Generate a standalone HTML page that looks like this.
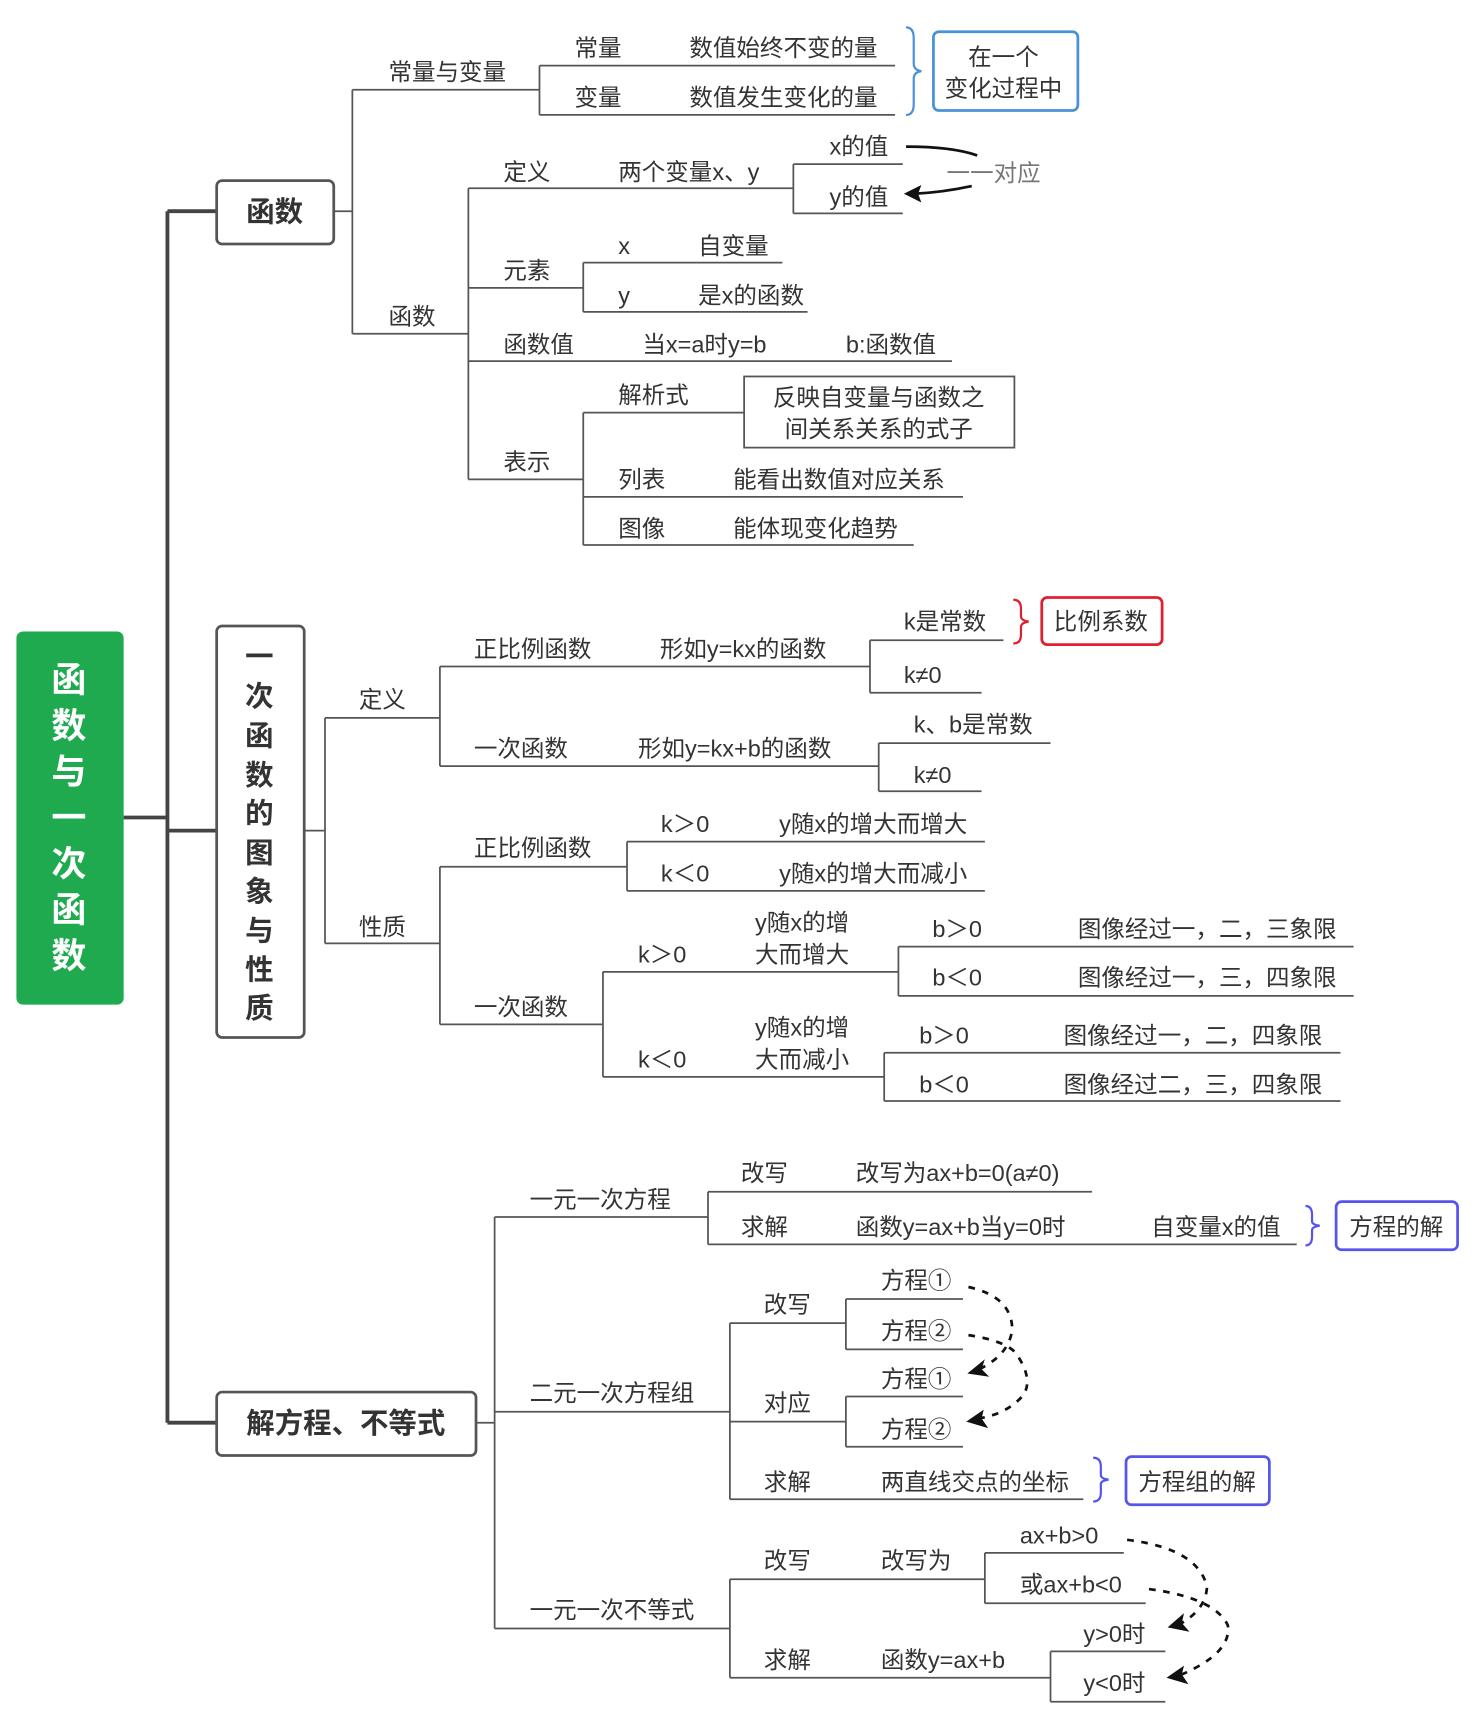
<!DOCTYPE html>
<html><head><meta charset="utf-8"><style>
html,body{margin:0;padding:0;background:#fff;}
svg{display:block;}
text{font-family:"Liberation Sans","Noto Sans CJK SC",sans-serif;font-size:21.5px;fill:#333;dominant-baseline:central;}
.b{font-weight:bold;font-size:26px;fill:#333;}
.w{font-weight:bold;font-size:32px;fill:#fff;text-anchor:middle;}
.c{text-anchor:middle;}
line,polyline,path{stroke:#555;stroke-width:1.6;fill:none;}
.t{stroke:#444;stroke-width:3.5;}
</style></head><body>
<svg width="1474" height="1716" viewBox="0 0 1347 1568" preserveAspectRatio="none" xmlns="http://www.w3.org/2000/svg">
<!-- root -->
<rect x="15" y="577" width="98" height="341" rx="6" fill="#1faa50"/>
<g class="w"><text x="63" y="622" class="w">函</text><text x="63" y="664" class="w">数</text><text x="63" y="706" class="w">与</text><text x="63" y="748" class="w">一</text><text x="63" y="790" class="w">次</text><text x="63" y="832" class="w">函</text><text x="63" y="874" class="w">数</text></g>
<line class="t" x1="113" y1="747" x2="153" y2="747"/>
<line class="t" x1="153" y1="193" x2="153" y2="1300"/>
<line class="t" x1="153" y1="193" x2="198" y2="193"/>
<line class="t" x1="153" y1="759" x2="198" y2="759"/>
<line class="t" x1="153" y1="1300" x2="198" y2="1300"/>
<rect x="198" y="165" width="107" height="58" rx="5" fill="#fff" stroke="#555" stroke-width="2.5"/>
<text x="251" y="194" class="b c">函数</text>
<rect x="198" y="572" width="80" height="376" rx="5" fill="#fff" stroke="#555" stroke-width="2.5"/>
<g><text x="237" y="601" class="b c">一</text><text x="237" y="637" class="b c">次</text><text x="237" y="673" class="b c">函</text><text x="237" y="709" class="b c">数</text><text x="237" y="744" class="b c">的</text><text x="237" y="780" class="b c">图</text><text x="237" y="815" class="b c">象</text><text x="237" y="851" class="b c">与</text><text x="237" y="887" class="b c">性</text><text x="237" y="922" class="b c">质</text></g>
<rect x="198" y="1272" width="237" height="58" rx="5" fill="#fff" stroke="#555" stroke-width="2.5"/>
<text x="316" y="1301" class="b c">解方程、不等式</text>

<!-- section 1 -->
<line x1="305" y1="193" x2="322" y2="193"/>
<line x1="322" y1="82" x2="322" y2="305"/>
<line x1="322" y1="82" x2="493" y2="82"/><text x="355" y="66">常量与变量</text>
<line x1="322" y1="305" x2="428" y2="305"/><text x="355" y="289">函数</text>
<line x1="493" y1="60" x2="493" y2="105"/>
<line x1="493" y1="60" x2="818" y2="60"/><text x="525" y="44">常量</text><text x="630" y="44">数值始终不变的量</text>
<line x1="493" y1="105" x2="818" y2="105"/><text x="525" y="89">变量</text><text x="630" y="89">数值发生变化的量</text>
<path d="M828 25 Q835 25 835 35 L835 58 Q835 64 842 65 Q835 66 835 72 L835 95 Q835 105 828 105" style="stroke:#4a90d9;stroke-width:2"/>
<rect x="853" y="29" width="132" height="72" rx="5" fill="#fff" stroke="#4a90d9" stroke-width="2.5"/>
<text x="917" y="52" class="c">在一个</text><text x="917" y="81" class="c">变化过程中</text>

<line x1="428" y1="172" x2="428" y2="438"/>
<line x1="428" y1="172" x2="725" y2="172"/><text x="460" y="157">定义</text><text x="565" y="157">两个变量x、y</text>
<line x1="725" y1="150" x2="725" y2="195"/>
<line x1="725" y1="150" x2="825" y2="150"/><text x="758" y="134">x的值</text>
<line x1="725" y1="195" x2="825" y2="195"/><text x="758" y="180">y的值</text>
<path d="M828 134 Q870 134 893 142" style="stroke:#111;stroke-width:2.5"/>
<path d="M888 170 Q860 176 835 177" style="stroke:#111;stroke-width:2.5"/>
<polygon points="826,177 842,169 839,177 842,185" fill="#111"/>
<text x="865" y="158" style="fill:#777">一一对应</text>

<line x1="428" y1="263" x2="533" y2="263"/><text x="460" y="247">元素</text>
<line x1="533" y1="240" x2="533" y2="285"/>
<line x1="533" y1="240" x2="715" y2="240"/><text x="565" y="225">x</text><text x="638" y="225">自变量</text>
<line x1="533" y1="285" x2="738" y2="285"/><text x="565" y="270">y</text><text x="638" y="270">是x的函数</text>
<line x1="428" y1="330" x2="870" y2="330"/><text x="460" y="315">函数值</text><text x="587" y="315">当x=a时y=b</text><text x="773" y="315">b:函数值</text>
<line x1="428" y1="438" x2="533" y2="438"/><text x="460" y="422">表示</text>
<line x1="533" y1="377" x2="533" y2="498"/>
<line x1="533" y1="377" x2="680" y2="377"/><text x="565" y="361">解析式</text>
<rect x="680" y="344" width="247" height="65" fill="#fff" stroke="#555" stroke-width="1.6"/>
<text x="803" y="363" class="c">反映自变量与函数之</text><text x="803" y="392" class="c">间关系关系的式子</text>
<line x1="533" y1="454" x2="880" y2="454"/><text x="565" y="438">列表</text><text x="670" y="438">能看出数值对应关系</text>
<line x1="533" y1="498" x2="835" y2="498"/><text x="565" y="483">图像</text><text x="670" y="483">能体现变化趋势</text>

<!-- section 2 -->
<line x1="278" y1="759" x2="297" y2="759"/>
<line x1="297" y1="656" x2="297" y2="862"/>
<line x1="297" y1="656" x2="402" y2="656"/><text x="328" y="639">定义</text>
<line x1="297" y1="862" x2="402" y2="862"/><text x="328" y="847">性质</text>
<line x1="402" y1="609" x2="402" y2="700"/>
<line x1="402" y1="609" x2="795" y2="609"/><text x="433" y="593">正比例函数</text><text x="603" y="593">形如y=kx的函数</text>
<line x1="795" y1="585" x2="795" y2="633"/>
<line x1="795" y1="585" x2="917" y2="585"/><text x="826" y="568">k是常数</text>
<line x1="795" y1="633" x2="897" y2="633"/><text x="826" y="617">k≠0</text>
<path d="M926 548 Q933 548 933 556 L933 563 Q933 567 940 568 Q933 569 933 573 L933 580 Q933 588 926 588" style="stroke:#e02030;stroke-width:2"/>
<rect x="952" y="546" width="110" height="43" rx="5" fill="#fff" stroke="#e02030" stroke-width="2.5"/>
<text x="1006" y="568" class="c">比例系数</text>
<line x1="402" y1="700" x2="803" y2="700"/><text x="433" y="684">一次函数</text><text x="583" y="684">形如y=kx+b的函数</text>
<line x1="803" y1="679" x2="803" y2="723"/>
<line x1="803" y1="679" x2="960" y2="679"/><text x="835" y="662">k、b是常数</text>
<line x1="803" y1="723" x2="897" y2="723"/><text x="835" y="708">k≠0</text>

<line x1="402" y1="792" x2="402" y2="936"/>
<line x1="402" y1="792" x2="573" y2="792"/><text x="433" y="775">正比例函数</text>
<line x1="573" y1="769" x2="573" y2="814"/>
<line x1="573" y1="769" x2="900" y2="769"/><text x="604" y="753">k＞0</text><text x="712" y="753">y随x的增大而增大</text>
<line x1="573" y1="814" x2="900" y2="814"/><text x="604" y="798">k＜0</text><text x="712" y="798">y随x的增大而减小</text>
<line x1="402" y1="936" x2="551" y2="936"/><text x="433" y="920">一次函数</text>
<line x1="551" y1="888" x2="551" y2="984"/>
<line x1="551" y1="888" x2="821" y2="888"/><text x="583" y="872">k＞0</text><text x="690" y="843">y随x的增</text><text x="690" y="872">大而增大</text>
<line x1="821" y1="865" x2="821" y2="910"/>
<line x1="821" y1="865" x2="1237" y2="865"/><text x="852" y="849">b＞0</text><text x="985" y="849">图像经过一，二，三象限</text>
<line x1="821" y1="910" x2="1237" y2="910"/><text x="852" y="893">b＜0</text><text x="985" y="893">图像经过一，三，四象限</text>
<line x1="551" y1="984" x2="808" y2="984"/><text x="583" y="968">k＜0</text><text x="690" y="939">y随x的增</text><text x="690" y="968">大而减小</text>
<line x1="808" y1="962" x2="808" y2="1006"/>
<line x1="808" y1="962" x2="1225" y2="962"/><text x="840" y="946">b＞0</text><text x="972" y="946">图像经过一，二，四象限</text>
<line x1="808" y1="1006" x2="1225" y2="1006"/><text x="840" y="991">b＜0</text><text x="972" y="991">图像经过二，三，四象限</text>

<!-- section 3 -->
<line x1="435" y1="1300" x2="452" y2="1300"/>
<line x1="452" y1="1112" x2="452" y2="1488"/>
<line x1="452" y1="1112" x2="647" y2="1112"/><text x="484" y="1096">一元一次方程</text>
<line x1="647" y1="1089" x2="647" y2="1137"/>
<line x1="647" y1="1089" x2="998" y2="1089"/><text x="677" y="1072">改写</text><text x="782" y="1072">改写为ax+b=0(a≠0)</text>
<line x1="647" y1="1137" x2="1185" y2="1137"/><text x="677" y="1121">求解</text><text x="782" y="1121">函数y=ax+b当y=0时</text><text x="1052" y="1121">自变量x的值</text>
<path d="M1193 1102 Q1199 1102 1199 1110 L1199 1116 Q1199 1119 1206 1120 Q1199 1121 1199 1124 L1199 1130 Q1199 1138 1193 1138" style="stroke:#5555ee;stroke-width:2"/>
<rect x="1221" y="1098" width="111" height="44" rx="5" fill="#fff" stroke="#5555ee" stroke-width="2.5"/>
<text x="1276" y="1121" class="c">方程的解</text>

<line x1="452" y1="1290" x2="667" y2="1290"/><text x="484" y="1273">二元一次方程组</text>
<line x1="667" y1="1209" x2="667" y2="1370"/>
<line x1="667" y1="1209" x2="773" y2="1209"/><text x="698" y="1192">改写</text>
<line x1="773" y1="1187" x2="773" y2="1233"/>
<line x1="773" y1="1187" x2="880" y2="1187"/><text x="805" y="1170">方程①</text>
<line x1="773" y1="1233" x2="880" y2="1233"/><text x="805" y="1216">方程②</text>
<line x1="667" y1="1299" x2="773" y2="1299"/><text x="698" y="1282">对应</text>
<line x1="773" y1="1276" x2="773" y2="1322"/>
<line x1="773" y1="1276" x2="880" y2="1276"/><text x="805" y="1260">方程①</text>
<line x1="773" y1="1322" x2="880" y2="1322"/><text x="805" y="1306">方程②</text>
<path d="M885 1176 Q925 1185 925 1215 Q922 1238 895 1251" style="stroke:#111;stroke-width:2.5;stroke-dasharray:6,7"/>
<path d="M885 1220 Q918 1225 928 1236 Q945 1260 935 1275 Q920 1292 895 1296" style="stroke:#111;stroke-width:2.5;stroke-dasharray:6,7"/>
<polygon points="884,1255 900,1242 897,1251 904,1258" fill="#111"/>
<polygon points="883,1299 899,1288 897,1296 903,1305" fill="#111"/>
<line x1="667" y1="1370" x2="990" y2="1370"/><text x="698" y="1354">求解</text><text x="805" y="1354">两直线交点的坐标</text>
<path d="M999 1332 Q1006 1332 1006 1340 L1006 1348 Q1006 1351 1013 1352 Q1006 1353 1006 1356 L1006 1364 Q1006 1372 999 1372" style="stroke:#5555ee;stroke-width:2"/>
<rect x="1029" y="1331" width="131" height="44" rx="5" fill="#fff" stroke="#5555ee" stroke-width="2.5"/>
<text x="1094" y="1354" class="c">方程组的解</text>

<line x1="452" y1="1488" x2="667" y2="1488"/><text x="484" y="1471">一元一次不等式</text>
<line x1="667" y1="1443" x2="667" y2="1533"/>
<line x1="667" y1="1443" x2="900" y2="1443"/><text x="698" y="1426">改写</text><text x="805" y="1426">改写为</text>
<line x1="900" y1="1419" x2="900" y2="1465"/>
<line x1="900" y1="1419" x2="1027" y2="1419"/><text x="932" y="1403">ax+b&gt;0</text>
<line x1="900" y1="1465" x2="1047" y2="1465"/><text x="932" y="1448">或ax+b&lt;0</text>
<line x1="667" y1="1533" x2="960" y2="1533"/><text x="698" y="1517">求解</text><text x="805" y="1517">函数y=ax+b</text>
<line x1="960" y1="1509" x2="960" y2="1555"/>
<line x1="960" y1="1509" x2="1065" y2="1509"/><text x="990" y="1493">y&gt;0时</text>
<line x1="960" y1="1555" x2="1065" y2="1555"/><text x="990" y="1538">y&lt;0时</text>
<path d="M1030 1407 Q1095 1415 1103 1450 Q1102 1470 1080 1483" style="stroke:#111;stroke-width:2.5;stroke-dasharray:6,7"/>
<path d="M1050 1452 Q1110 1460 1122 1485 Q1126 1510 1080 1530" style="stroke:#111;stroke-width:2.5;stroke-dasharray:6,7"/>
<polygon points="1067,1487 1082,1474 1080,1483 1087,1491" fill="#111"/>
<polygon points="1066,1533 1082,1522 1080,1530 1086,1539" fill="#111"/>
</svg>
</body></html>
